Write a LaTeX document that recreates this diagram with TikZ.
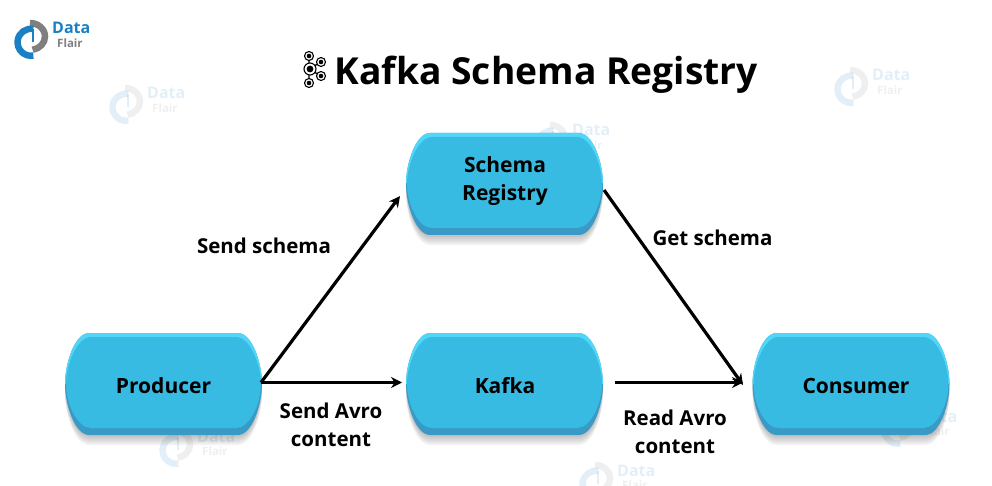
\documentclass[tikz,border=0pt]{standalone}
\usepackage{fontspec}
\setmainfont{Open Sans}
\usetikzlibrary{arrows.meta}
\definecolor{boxmain}{HTML}{38BBE2}
\definecolor{boxtop}{HTML}{52D6F8}
\definecolor{boxlow}{HTML}{3A9AC6}
\definecolor{logoblue}{HTML}{1B7FC4}
\definecolor{logogray}{HTML}{7F7F7F}
\tikzset{
    boxlabel/.style={font=\bfseries\fontsize{21}{28}\selectfont,align=center,inner sep=0pt,text=black},
    edgelabel/.style={font=\bfseries\fontsize{20.5}{28}\selectfont,align=center,inner sep=0pt,text=black},
    flow/.style={line width=3.2pt,-{Stealth[length=11pt,width=11pt]}},
    ring/.style={draw=black,line width=1.1pt,fill=white},
}
% rounded box with bulging sides, 197 wide and 102 high
\newcommand{\boxoutline}{(24,0) -- (173,0) .. controls (187,0) and (197,30) .. (197,51) .. controls (197,72) and (187,102) .. (173,102) -- (24,102) .. controls (10,102) and (0,72) .. (0,51) .. controls (0,30) and (10,0) .. (24,0) -- cycle}
\newcommand{\flowbox}[1]{
    \begin{scope}[shift={(#1)}]
        %% shadow
        \foreach \d in {10,8,6,4,2} {
            \fill[black,opacity=0.05] [shift={(0,\d)}] \boxoutline;
        }
        \fill[boxlow] \boxoutline;
        \begin{scope}
            \clip (-2,-2) rectangle (199,50);
            \fill[boxtop] \boxoutline;
        \end{scope}
        \fill[boxmain] (26,4) -- (171,4) .. controls (185,4) and (196,32) .. (196,51) .. controls (196,70) and (185,95) .. (171,95) -- (26,95) .. controls (12,95) and (1,70) .. (1,51) .. controls (1,32) and (12,4) .. (26,4) -- cycle;
    \end{scope}
}
% the logo, its corner at #1, opacity #2
\newcommand{\flairlogo}[2]{
    \begin{scope}[shift={(#1)},opacity=#2]
        \draw[logogray,line width=6.5pt] (15,3) arc (270:440:15 and 13.5);
        \draw[logoblue,line width=6.5pt] (18.4,9) arc (280:80:13.5 and 13.5);
        \draw[logoblue,line width=2.5pt] (18,9) -- (18,22);
        \node[anchor=base west,inner sep=0pt,text=logoblue,font=\bfseries\fontsize{16}{16}\selectfont] at (37,14) {Data};
        \node[anchor=base west,inner sep=0pt,text=logogray,font=\bfseries\fontsize{11.5}{11.5}\selectfont] at (42,27.5) {Flair};
    \end{scope}
}
\begin{document}
\begin{tikzpicture}[x=1pt,y=-1pt]
    \useasboundingbox (0,0) rectangle (992,486);
    %% logos
    \flairlogo{15,20}{1}
    \flairlogo{110,85}{0.12}
    \flairlogo{835,67}{0.12}
    \flairlogo{535,122}{0.12}
    \flairlogo{160,428}{0.12}
    \flairlogo{882,408}{0.12}
    \flairlogo{580,462}{0.12}
    %% title
    \node[anchor=base west,inner sep=0pt,font=\bfseries\fontsize{37.2}{37.2}\selectfont] (title) at (334.5,85) {Kafka Schema Registry};
    %% kafka icon
    \draw[line width=1.3pt] (309,56) -- (309,83) (309,69) -- (321,62) (309,69) -- (321,76);
    \foreach \p/\r in {309/56,309/83,321/62,321/76} {
        \fill[ring] (\p,\r) circle (4.5);
        \fill (\p,\r) circle (2.3);
    }
    \fill[ring] (310,69) circle (6);
    \fill (310,69) circle (3.4);
    %% boxes
    \flowbox{65,333}
    \flowbox{406,133}
    \flowbox{406,333}
    \flowbox{752.5,333}
    \node[boxlabel] (producer) at (163.5,385.5) {Producer};
    \node[boxlabel] (registry) at (505,181.5) {Schema\\Registry};
    \node[boxlabel] (kafka) at (505,385.5) {Kafka};
    \node[boxlabel] (consumer) at (856,385.5) {Consumer};
    %% connector ends
    \coordinate (prodout) at (261,382.5);
    \coordinate (regin) at (400,196);
    \coordinate (regout) at (604,190);
    \coordinate (kafkain) at (402,382.5);
    \coordinate (kafkaout) at (615,382.5);
    \coordinate (consin) at (743,382.5);
    \coordinate (consin2) at (743,385);
    \draw[flow] (prodout) -- (regin);
    \draw[flow] (prodout) -- (kafkain);
    \draw[flow] (regout) -- (consin2);
    \draw[flow] (kafkaout) -- (consin);
    %% labels
    \node[edgelabel] (sendschema) at (264,245.5) {Send schema};
    \node[edgelabel] (getschema) at (712.5,237.5) {Get schema};
    \node[edgelabel] (sendavro) at (331,424.5) {Send Avro\\content};
    \node[edgelabel] (readavro) at (675,431.5) {Read Avro\\content};
\end{tikzpicture}
\end{document}
